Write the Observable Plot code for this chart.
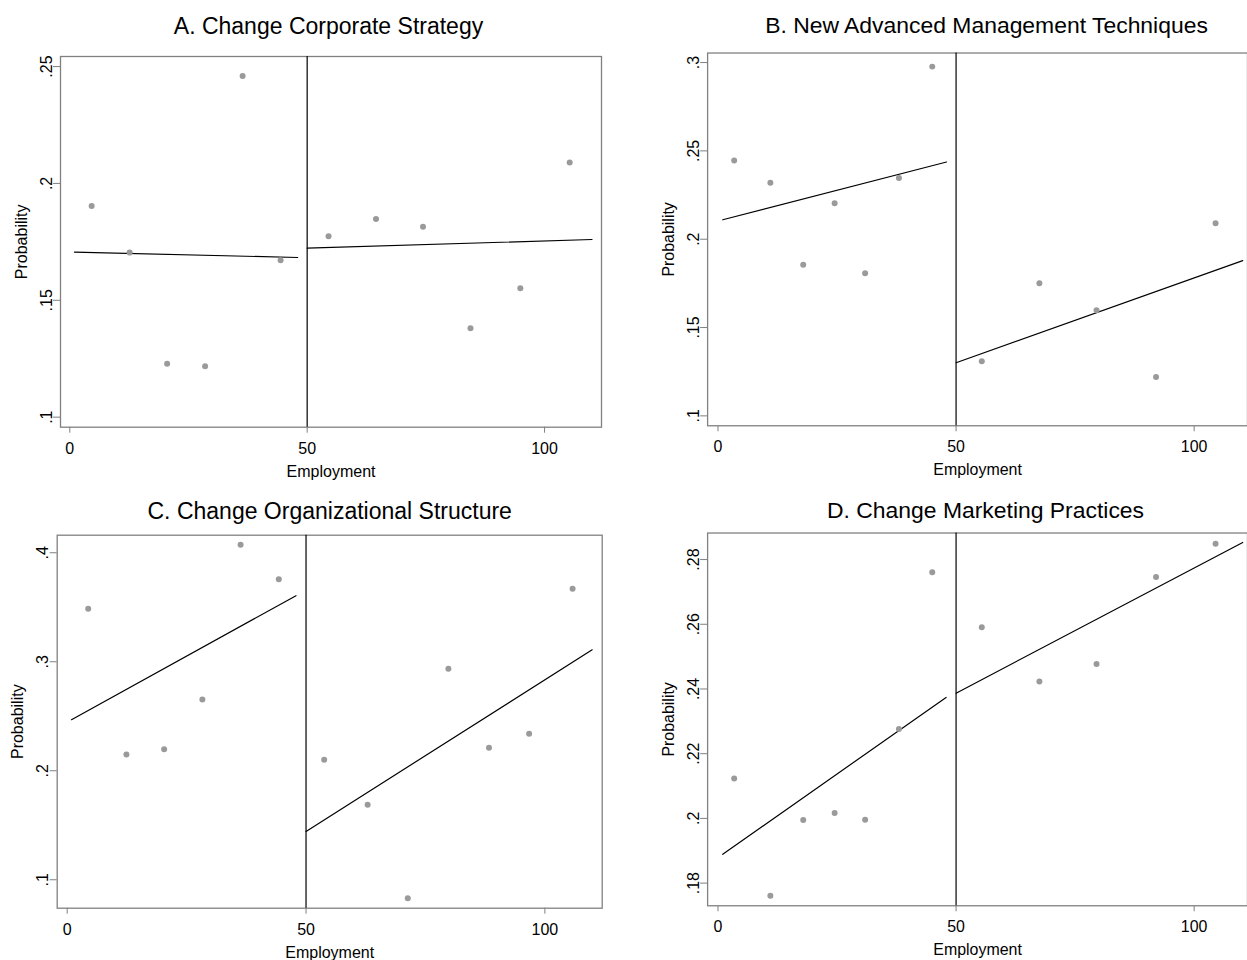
<!DOCTYPE html>
<html><head><meta charset="utf-8">
<script src="https://cdn.jsdelivr.net/npm/d3@7"></script>
<script src="https://cdn.jsdelivr.net/npm/@observablehq/plot@0.6"></script>
<style>
html,body{margin:0;padding:0;background:#fff;overflow:hidden;}
#wrap{position:relative;width:1247px;height:960px;overflow:hidden;background:#fff;}
.panel{position:absolute;}
</style></head><body><div id="wrap"></div>
<script>
// ---- Data ----
const titles = ["A. Change Corporate Strategy", "B. New Advanced Management Techniques",
                "C. Change Organizational Structure", "D. Change Marketing Practices"];
const xLabel = "Employment";
const yLabel = "Probability";
const cutoff = 50;
const xTicks = [0, 50, 100];

// Panel A
const aLeftX  = [4.6, 12.6, 20.5, 28.5, 36.4, 44.4];
const aLeftY  = [0.1903, 0.1704, 0.1228, 0.1218, 0.2460, 0.1671];
const aRightX = [54.5, 64.5, 74.4, 84.4, 94.9, 105.3];
const aRightY = [0.1774, 0.1848, 0.1815, 0.1380, 0.1551, 0.2089];
const aFitX   = [[1.0, 48.0], [50, 110.0]];
const aFitY   = [[0.1706, 0.1683], [0.1723, 0.1760]];
const aYTicks = [0.1, 0.15, 0.2, 0.25];

// Panel B
const bLeftX  = [3.4, 11.0, 17.9, 24.5, 30.9, 38.0, 45.0];
const bLeftY  = [0.2445, 0.2319, 0.1856, 0.2204, 0.1807, 0.2347, 0.2977];
const bRightX = [55.4, 67.5, 79.5, 92.0, 104.5];
const bRightY = [0.1309, 0.1751, 0.1598, 0.1220, 0.2091];
const bFitX   = [[1.0, 48.0], [50, 110.2]];
const bFitY   = [[0.2110, 0.2437], [0.1301, 0.1879]];
const bYTicks = [0.1, 0.15, 0.2, 0.25, 0.3];

// Panel C
const cLeftX  = [4.4, 12.4, 20.3, 28.3, 36.3, 44.3];
const cLeftY  = [0.3486, 0.2150, 0.2198, 0.2654, 0.4073, 0.3758];
const cRightX = [53.8, 62.9, 71.3, 79.8, 88.3, 96.7, 105.8];
const cRightY = [0.2101, 0.1688, 0.0831, 0.2936, 0.2211, 0.2339, 0.3670];
const cFitX   = [[0.9, 47.9], [50, 109.9]];
const cFitY   = [[0.2468, 0.3606], [0.1443, 0.3110]];
const cYTicks = [0.1, 0.2, 0.3, 0.4];

// Panel D
const dLeftX  = [3.4, 11.0, 17.9, 24.5, 30.9, 38.0, 45.0];
const dLeftY  = [0.2123, 0.1761, 0.1995, 0.2017, 0.1996, 0.2276, 0.2761];
const dRightX = [55.4, 67.5, 79.5, 92.0, 104.5];
const dRightY = [0.2591, 0.2423, 0.2477, 0.2746, 0.2849];
const dFitX   = [[1.0, 47.9], [50, 110.2]];
const dFitY   = [[0.1889, 0.2374], [0.2387, 0.2853]];
const dYTicks = [0.18, 0.2, 0.22, 0.24, 0.26, 0.28];

// ---- Rendering ----
const FONT = "'Liberation Sans', Arial, Helvetica, sans-serif";
const GRAY = "#808080";
const stataFmt = d => String(d).replace(/^0\./, ".");

function buildPanel(cfg) {
  const pts = [
    ...cfg.leftX.map((x, i) => ({x, y: cfg.leftY[i]})),
    ...cfg.rightX.map((x, i) => ({x, y: cfg.rightY[i]}))
  ];
  const fit = [];
  cfg.fitX.forEach((xs, s) => xs.forEach((x, i) => fit.push({seg: s, x, y: cfg.fitY[s][i]})));
  const svg = Plot.plot({
    width: cfg.w, height: 480,
    marginLeft: cfg.ml, marginRight: cfg.mr, marginTop: cfg.mt, marginBottom: cfg.mb,
    style: {fontFamily: FONT, fontSize: "16px", color: "black", background: "white"},
    x: {domain: cfg.xDomain},
    y: {domain: cfg.yDomain},
    marks: [
      Plot.axisX({ticks: xTicks, tickSize: 6, tickPadding: 9, stroke: GRAY, fill: "black",
                  tickFormat: d => String(d), label: null, fontSize: 16}),
      Plot.axisY({ticks: cfg.yTicks, tickSize: 7, tickPadding: 2, tickRotate: -90,
                  textAnchor: "middle", lineAnchor: "bottom", stroke: GRAY, fill: "black",
                  tickFormat: stataFmt, label: null, fontSize: 16}),
      Plot.frame({stroke: GRAY, strokeWidth: 1.3}),
      Plot.ruleX([cutoff], {stroke: "black", strokeWidth: 1.2}),
      Plot.line(fit, {x: "x", y: "y", z: "seg", stroke: "black", strokeWidth: 1.2}),
      Plot.dot(pts, {x: "x", y: "y", r: 3, fill: "#9a9a9a"}),
      Plot.text([cfg.title], {text: d => d, frameAnchor: "top", dx: cfg.tdx, dy: cfg.tdy,
                              lineAnchor: "bottom", fontSize: 23}),
      Plot.text([yLabel], {text: d => d, frameAnchor: "left", dx: -34, rotate: -90,
                           textAnchor: "middle", lineAnchor: "bottom", fontSize: 16}),
      Plot.text([xLabel], {text: d => d, frameAnchor: "bottom", dy: 49.8,
                           lineAnchor: "bottom", fontSize: 16})
    ]
  });
  const div = document.createElement("div");
  div.className = "panel";
  div.style.left = cfg.left + "px";
  div.style.top = cfg.top + "px";
  div.appendChild(svg);
  document.getElementById("wrap").appendChild(div);
}

buildPanel({title: titles[0], left: 0, top: 0, w: 623, ml: 60, mr: 22, mt: 56, mb: 53.3,
  xDomain: [-1.96, 112.0], yDomain: [0.0957, 0.2543], yTicks: aYTicks,
  leftX: aLeftX, leftY: aLeftY, rightX: aRightX, rightY: aRightY, fitX: aFitX, fitY: aFitY,
  tdx: -2.5, tdy: -22.7});
buildPanel({title: titles[1], left: 647, top: 0, w: 602, ml: 60.3, mr: 0, mt: 52.7, mb: 53.3,
  xDomain: [-2.18, 111.2], yDomain: [0.0944, 0.3054], yTicks: bYTicks,
  leftX: bLeftX, leftY: bLeftY, rightX: bRightX, rightY: bRightY, fitX: bFitX, fitY: bFitY,
  tdx: 9, tdy: -20});
buildPanel({title: titles[2], left: 0, top: 480, w: 623, ml: 56.7, mr: 21.3, mt: 54.7, mb: 52.3,
  xDomain: [-2.09, 112.0], yDomain: [0.0739, 0.4161], yTicks: cYTicks,
  leftX: cLeftX, leftY: cLeftY, rightX: cRightX, rightY: cRightY, fitX: cFitX, fitY: cFitY,
  tdx: 0, tdy: -16.4});
buildPanel({title: titles[3], left: 647, top: 480, w: 602, ml: 60.3, mr: 0, mt: 52.7, mb: 53.3,
  xDomain: [-2.18, 111.2], yDomain: [0.1730, 0.2882], yTicks: dYTicks,
  leftX: dLeftX, leftY: dLeftY, rightX: dRightX, rightY: dRightY, fitX: dFitX, fitY: dFitY,
  tdx: 8, tdy: -14.7});
</script>
</body></html>
